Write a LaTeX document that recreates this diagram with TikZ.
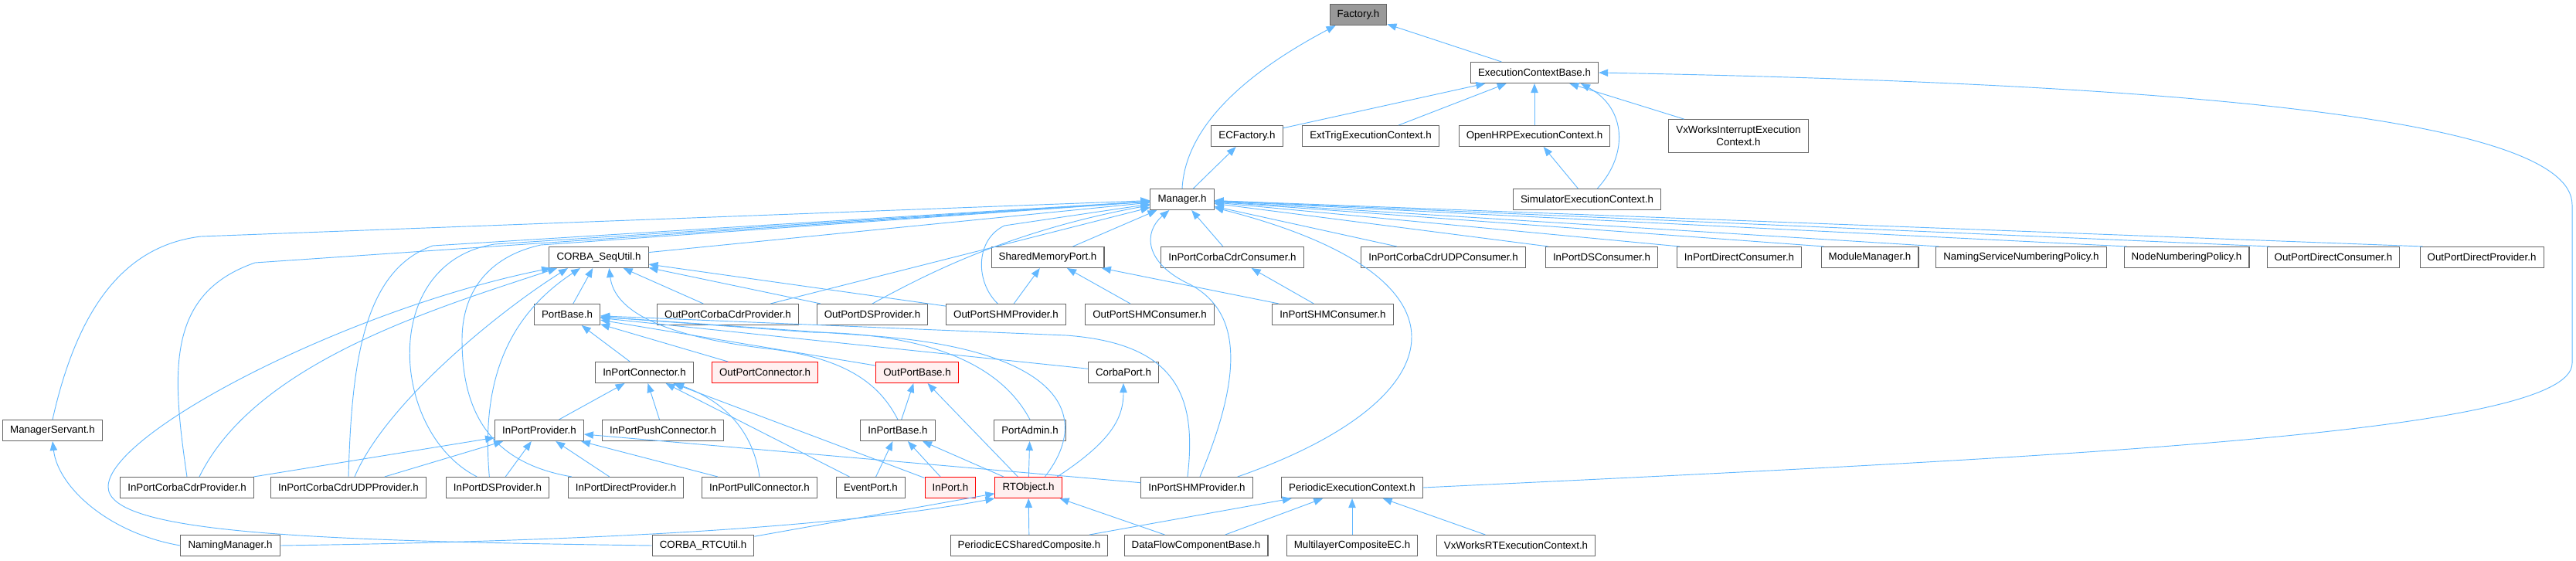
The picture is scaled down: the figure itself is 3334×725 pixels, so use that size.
\documentclass[tikz,border=0pt]{standalone}
\usepackage{fontspec}
\setmainfont{Liberation Sans}
\usepackage{tikz}
\usetikzlibrary{arrows.meta}
\definecolor{edgeblue}{HTML}{63B8FF}
\definecolor{boxline}{HTML}{666666}
\definecolor{hilite}{HTML}{FFF0F0}
\definecolor{rootfill}{HTML}{999999}

\begin{document}
\begin{tikzpicture}[x=0.75pt,y=-0.75pt,
  file/.style={draw=boxline, fill=white, line width=0.8pt, inner xsep=7.2pt, inner ysep=0pt,
    minimum height=20.25pt, font=\fontsize{10pt}{12pt}\selectfont},
  redfile/.style={file, draw=red, fill=hilite},
  rootfile/.style={file, fill=rootfill},
  dep/.style={draw=edgeblue, line width=0.7pt, -{Triangle[length=9pt,width=7pt]}}]
\useasboundingbox (0,0) rectangle (3334,725);

			\node[rootfile] at (1758,19) (factory){Factory.h};
			\node[file] at (1986,94) (ecbase){ExecutionContextBase.h};
			\node[file] at (1614,176) (ecfactory){ECFactory.h};
			\node[file] at (1774,176) (exttrig){ExtTrigExecutionContext.h};
			\node[file] at (1986,176) (openhrp){OpenHRPExecutionContext.h};
			\node[file, align=center, minimum height=32pt] at (2250,176) (vxint){VxWorksInterruptExecution\\Context.h};
			\node[file] at (1530,258) (manager){Manager.h};
			\node[file] at (2054,258) (simulator){SimulatorExecutionContext.h};
			\node[file] at (775,333) (sequtil){CORBA\_SeqUtil.h};
			\node[file] at (1356,333) (shmport){SharedMemoryPort.h};
			\node[file] at (1595,333) (cdrcons){InPortCorbaCdrConsumer.h};
			\node[file] at (1868,333) (cdrudpcons){InPortCorbaCdrUDPConsumer.h};
			\node[file] at (2073,333) (dscons){InPortDSConsumer.h};
			\node[file] at (2251,333) (directcons){InPortDirectConsumer.h};
			\node[file] at (2420,333) (modmgr){ModuleManager.h};
			\node[file] at (2616,333) (nsnp){NamingServiceNumberingPolicy.h};
			\node[file] at (2830,333) (nnp){NodeNumberingPolicy.h};
			\node[file] at (3020,333) (opdircons){OutPortDirectConsumer.h};
			\node[file] at (3212,333) (opdirprov){OutPortDirectProvider.h};
			\node[file] at (734,407) (portbase){PortBase.h};
			\node[file] at (942,407) (opcdrprov){OutPortCorbaCdrProvider.h};
			\node[file] at (1129,407) (opdsprov){OutPortDSProvider.h};
			\node[file] at (1302,407) (opshmprov){OutPortSHMProvider.h};
			\node[file] at (1488,407) (opshmcons){OutPortSHMConsumer.h};
			\node[file] at (1725,407) (ipshmcons){InPortSHMConsumer.h};
			\node[file] at (834,482) (ipconn){InPortConnector.h};
			\node[redfile] at (990,482) (opconn){OutPortConnector.h};
			\node[redfile] at (1187,482) (opbase){OutPortBase.h};
			\node[file] at (1454,482) (corbaport){CorbaPort.h};
			\node[file] at (68,557) (mgrservant){ManagerServant.h};
			\node[file] at (698,557) (ipprov){InPortProvider.h};
			\node[file] at (858,557) (ippush){InPortPushConnector.h};
			\node[file] at (1162,557) (ipbase){InPortBase.h};
			\node[file] at (1333,557) (portadmin){PortAdmin.h};
			\node[file] at (242,631) (ipcdrprov){InPortCorbaCdrProvider.h};
			\node[file] at (451,631) (ipcdrudpprov){InPortCorbaCdrUDPProvider.h};
			\node[file] at (644,631) (ipdsprov){InPortDSProvider.h};
			\node[file] at (810,631) (ipdirprov){InPortDirectProvider.h};
			\node[file] at (983,631) (ippull){InPortPullConnector.h};
			\node[file] at (1127,631) (eventport){EventPort.h};
			\node[redfile] at (1230,631) (inport){InPort.h};
			\node[redfile] at (1331,631) (rtobject){RTObject.h};
			\node[file] at (1549,631) (ipshmprov){InPortSHMProvider.h};
			\node[file] at (1750,631) (periodicec){PeriodicExecutionContext.h};
			\node[file] at (298,706) (namingmgr){NamingManager.h};
			\node[file] at (910,706) (rtcutil){CORBA\_RTCUtil.h};
			\node[file] at (1332,706) (pecshared){PeriodicECSharedComposite.h};
			\node[file] at (1548,706) (dfcbase){DataFlowComponentBase.h};
			\node[file] at (1750,706) (multilayer){MultilayerCompositeEC.h};
			\node[file] at (1962,706) (vxrt){VxWorksRTExecutionContext.h};

			\draw[dep] (manager.north) .. controls (1535,150) and (1640,80) .. ([xshift=6pt]factory.south west);
			\draw[dep] (ecbase) -- (factory);
			\draw[dep] (ecfactory) -- (ecbase);
			\draw[dep] (exttrig) -- (ecbase);
			\draw[dep] (openhrp) -- (ecbase);
			\draw[dep] (vxint) -- (ecbase);
			\draw[dep] ([xshift=10pt]simulator.north) .. controls (2108,200) and (2105,140) .. ([xshift=45pt]ecbase.south);
			\draw[dep] (simulator) -- (openhrp);
			\draw[dep] (periodicec.east) .. controls (2700,590) and (3329,560) .. (3329,470) -- (3329,265) .. controls (3329,150) and (2800,108) .. (ecbase.east);
			\draw[dep] (manager) -- (ecfactory);
			\draw[dep] (sequtil) -- (manager);
			\draw[dep] (mgrservant.north) .. controls (100,400) and (160,318) .. (260,306) -- (manager);
			\draw[dep] (ipcdrprov.north) .. controls (222,480) and (215,380) .. (330,340) -- (manager);
			\draw[dep] (ipcdrudpprov.north) .. controls (455,470) and (470,350) .. (560,318) -- (manager);
			\draw[dep] ([xshift=-20pt]ipdsprov.north) .. controls (505,560) and (490,340) .. (640,316) -- (manager);
			\draw[dep] ([xshift=4pt]ipdirprov.north west) .. controls (640,600) and (598,540) .. (598,440) .. controls (598,370) and (640,330) .. (700,317) -- (manager);
			\draw[dep] (opcdrprov) -- (manager);
			\draw[dep] (opdsprov.north) .. controls (1190,360) and (1300,300) .. (manager);
			\draw[dep] ([xshift=-8pt]opshmprov.north) .. controls (1262,365) and (1262,310) .. (1300,292) -- (manager);
			\draw[dep] (shmport) -- (manager);
			\draw[dep] (cdrcons) -- (manager);
			\draw[dep] ([xshift=35pt]cdrudpcons.north west) -- (manager);
			\draw[dep] ([xshift=3pt]dscons.north west) -- (manager);
			\draw[dep] ([xshift=3pt]directcons.north west) -- (manager);
			\draw[dep] ([xshift=3pt]modmgr.north west) -- (manager);
			\draw[dep] ([xshift=3pt]nsnp.north west) -- (manager);
			\draw[dep] ([xshift=3pt]nnp.north west) -- (manager);
			\draw[dep] ([xshift=3pt]opdircons.north west) -- (manager);
			\draw[dep] ([xshift=3pt]opdirprov.north west) -- (manager);
			\draw[dep] ([xshift=3pt]ipshmprov.north) .. controls (1615,470) and (1600,400) .. (1540,368) .. controls (1480,340) and (1480,300) .. (manager);
			\draw[dep] ([xshift=-15pt]ipshmprov.north east) .. controls (1880,520) and (1930,360) .. (manager);
			\draw[dep] (opshmprov) -- (shmport);
			\draw[dep] (opshmcons) -- (shmport);
			\draw[dep] (ipshmcons) -- (shmport);
			\draw[dep] (ipshmcons) -- (cdrcons);
			\draw[dep] (portbase) -- (sequtil);
			\draw[dep] (opcdrprov) -- (sequtil);
			\draw[dep] (opdsprov) -- (sequtil);
			\draw[dep] (opshmprov) -- (sequtil);
			\draw[dep] ([xshift=12pt]ipcdrprov.north) .. controls (330,470) and (560,400) .. ([xshift=8pt]sequtil.south west);
			\draw[dep] ([xshift=6pt]ipcdrudpprov.north) .. controls (500,520) and (650,400) .. ([xshift=-30pt]sequtil.south);
			\draw[dep] ([xshift=-8pt]ipdsprov.north) .. controls (625,520) and (640,420) .. ([xshift=-18pt]sequtil.south);
			\draw[dep] (rtcutil.west) .. controls (400,700) and (140,690) .. (140,630) .. controls (140,560) and (450,400) .. ([xshift=2pt]sequtil.south west);
			\draw[dep] (ipbase.north) .. controls (1140,500) and (1100,465) .. (1000,452) .. controls (850,435) and (795,400) .. ([xshift=10pt]sequtil.south);
			\draw[dep] (ipconn) -- (portbase);
			\draw[dep] (opconn) -- (portbase);
			\draw[dep] (opbase) -- (portbase);
			\draw[dep] (corbaport) -- (portbase);
			\draw[dep] (portadmin.north) .. controls (1310,500) and (1250,432) .. (1050,430) -- (portbase);
			\draw[dep] ([xshift=16pt]rtobject.north) .. controls (1420,530) and (1360,450) .. (1120,434) -- (portbase);
			\draw[dep] ([xshift=-9pt]ipshmprov.north) .. controls (1548,520) and (1530,445) .. (1380,434) -- (portbase);
			\draw[dep] (ipbase) -- (opbase);
			\draw[dep] (rtobject) -- (opbase);
			\draw[dep] (eventport) -- (ipbase);
			\draw[dep] (inport) -- (ipbase);
			\draw[dep] (rtobject) -- (ipbase);
			\draw[dep] (rtobject) -- (portadmin);
			\draw[dep] ([xshift=28pt]rtobject.north) .. controls (1440,570) and (1454,540) .. (corbaport);
			\draw[dep] (ipprov) -- (ipconn);
			\draw[dep] (ippush) -- (ipconn);
			\draw[dep] (ippull.north) .. controls (975,560) and (940,520) .. (ipconn);
			\draw[dep] (eventport) -- (ipconn);
			\draw[dep] (inport) -- (ipconn);
			\draw[dep] (ipcdrprov) -- (ipprov);
			\draw[dep] (ipcdrudpprov) -- (ipprov);
			\draw[dep] (ipdsprov) -- (ipprov);
			\draw[dep] (ipdirprov) -- (ipprov);
			\draw[dep] (ippull) -- (ipprov);
			\draw[dep] (ipshmprov) -- (ipprov);
			\draw[dep] (namingmgr.west) .. controls (140,690) and (75,630) .. (mgrservant.south);
			\draw[dep] (namingmgr.east) .. controls (800,700) and (1100,680) .. (rtobject.south west);
			\draw[dep] (rtcutil) -- (rtobject);
			\draw[dep] (pecshared) -- (rtobject);
			\draw[dep] (dfcbase) -- (rtobject);
			\draw[dep] (pecshared) -- (periodicec);
			\draw[dep] (dfcbase) -- (periodicec);
			\draw[dep] (multilayer) -- (periodicec);
			\draw[dep] (vxrt) -- (periodicec);
		\end{tikzpicture}
\end{document}
